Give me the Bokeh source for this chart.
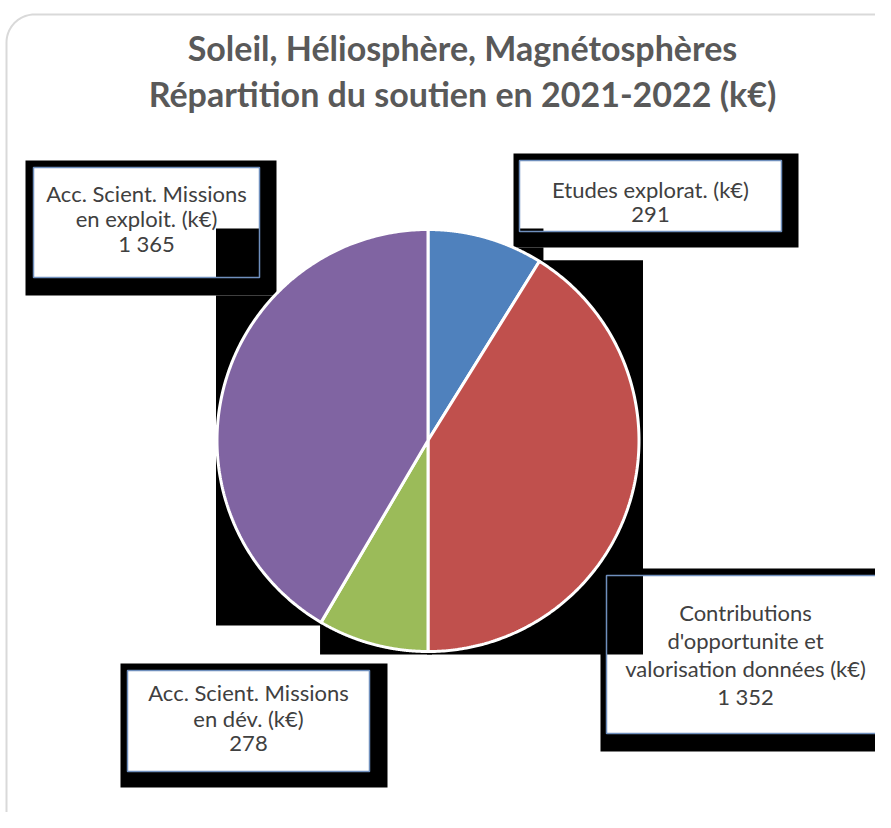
import numpy as np
from bokeh.plotting import figure
from bokeh.models import Range1d
from bokeh.core.properties import value
from bokeh.embed import file_html
from bokeh.resources import INLINE

# ---- data ----
title_lines = ["Soleil, Héliosphère, Magnétosphères",
               "Répartition du soutien en 2021-2022 (k€)"]
categories = ["Etudes explorat. (k€)",
              "Contributions d'opportunite et valorisation données (k€)",
              "Acc. Scient. Missions en dév. (k€)",
              "Acc. Scient. Missions en exploit. (k€)"]
label_lines = [["Etudes explorat. (k€)"],
               ["Contributions", "d'opportunite et", "valorisation données (k€)"],
               ["Acc. Scient. Missions", "en dév. (k€)"],
               ["Acc. Scient. Missions", "en exploit. (k€)"]]
values = [291, 1352, 278, 1365]
colors = ["#4F81BD", "#C0504D", "#9BBB59", "#8064A2"]

# ---- layout (pixel coordinates, y downwards) ----
CX, CY, R = 427.5, 440.0, 211.0
label_layout = [
    dict(box=(519, 781, 160, 231), shadow=(513, 798, 153, 247), y0=189, dy=25),
    dict(box=(606, 884, 575, 733), shadow=(600, 895, 568, 751), y0=612, dy=28),
    dict(box=(127, 369, 670, 771), shadow=(120, 387, 663, 787), y0=692, dy=25.5),
    dict(box=(33, 259, 167, 277), shadow=(25, 276, 160, 295), y0=193, dy=25),
]

W, H = 875, 812
p = figure(width=W, height=H, x_range=Range1d(0, W), y_range=Range1d(H, 0),
           output_backend="svg", toolbar_location=None, min_border=0,
           x_axis_location=None, y_axis_location=None)
p.grid.visible = False
p.outline_line_color = None
p.background_fill_color = "white"
p.border_fill_color = "white"

# outer rounded frame
def rounded_path(l, r, t, b, rad, n=20):
    xs, ys = [], []
    corners = [(r - rad, t + rad, -90, 0), (r - rad, b - rad, 0, 90),
               (l + rad, b - rad, 90, 180), (l + rad, t + rad, 180, 270)]
    for cx, cy, a0, a1 in corners:
        a = np.radians(np.linspace(a0, a1, n))
        xs += list(cx + rad * np.cos(a))
        ys += list(cy + rad * np.sin(a))
    xs.append(xs[0]); ys.append(ys[0])
    return xs, ys

fx, fy = rounded_path(6, 905, 14, 845, 28)
p.line(fx, fy, line_color="#d9d9d9", line_width=2)

# slice geometry
vals = np.array(values, dtype=float)
frac = vals / vals.sum()
ends = np.cumsum(frac) * 2 * np.pi
starts = ends - frac * 2 * np.pi
slice_xs, slice_ys = [], []
for a0, a1 in zip(starts, ends):
    th = np.linspace(a0, a1, 240)
    xs = np.concatenate([[CX], CX + R * np.sin(th), [CX]])
    ys = np.concatenate([[CY], CY - R * np.cos(th), [CY]])
    slice_xs.append(list(xs)); slice_ys.append(list(ys))

# label shadows and fills
for lay in label_layout:
    l, r, t, b = lay["shadow"]
    p.quad(left=l, right=r, top=t, bottom=b, fill_color="black", line_color=None)
for lay in label_layout:
    l, r, t, b = lay["box"]
    p.quad(left=l, right=r, top=t, bottom=b, fill_color="white", line_color=None)

# slice shadows (bounding boxes, as in the rendered original)
def overlap(a, b):
    return a[0] < b[1] and b[0] < a[1] and a[2] < b[3] and b[2] < a[3]

for xs, ys in zip(slice_xs, slice_ys):
    S = [min(xs) - 1, max(xs) + 4, min(ys) - 1, max(ys) + 3]
    top = S[2]
    for lay in label_layout:
        L, B = lay["shadow"], lay["box"]
        if overlap(S, L) and L[3] < CY:
            top = max(top, L[3])
            if overlap(S, B):
                p.quad(left=max(S[0], B[0]), right=min(S[1], B[1]),
                       top=max(S[2], B[2]), bottom=min(S[3], B[3]),
                       fill_color="black", line_color=None)
    p.quad(left=S[0], right=S[1], top=top, bottom=S[3],
           fill_color="black", line_color=None)

# slices
p.patches(slice_xs, slice_ys, fill_color=colors, line_color="white", line_width=3)

# label borders + text
for lay, lines, v in zip(label_layout, label_lines, values):
    l, r, t, b = lay["box"]
    p.quad(left=l, right=r, top=t, bottom=b, fill_color=None,
           line_color="#6f8fbd", line_width=1.5)
    txt = lines + [f"{v:,}".replace(",", " ")]
    ys = [lay["y0"] + i * lay["dy"] for i in range(len(txt))]
    p.text(x=[(l + r) / 2] * len(txt), y=ys, text=txt, text_font=value("Lato"),
           text_font_size="22px", text_color="#404040", text_align="center",
           text_baseline="middle")

# title
p.text(x=[462, 462], y=[47, 93], text=title_lines, text_font=value("Lato"),
       text_font_size="34px", text_font_style="bold", text_color="#595959",
       text_align="center", text_baseline="middle")

open("out.html", "w").write(file_html(p, INLINE))
